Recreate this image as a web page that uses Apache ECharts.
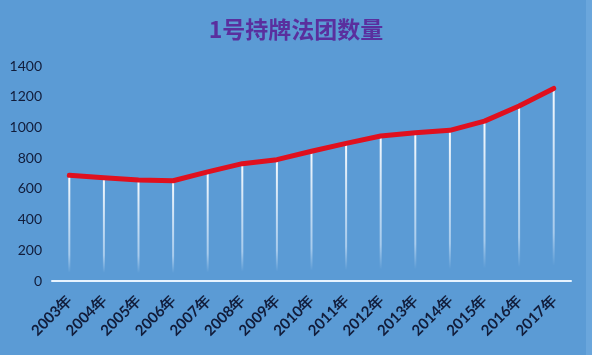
<!DOCTYPE html>
<html><head><meta charset="utf-8">
<style>html,body{margin:0;padding:0;background:#5b9bd5;}#c{width:592px;height:355px;}</style>
<script src="https://cdn.jsdelivr.net/npm/echarts@6/dist/echarts.min.js"></script>
</head><body><div id="c"></div>
<script>
const categories = ['2003年','2004年','2005年','2006年','2007年','2008年','2009年','2010年','2011年','2012年','2013年','2014年','2015年','2016年','2017年'];
const counts = [688, 672, 657, 653, 711, 764, 790, 845, 896, 944, 966, 981, 1041, 1139, 1254];
const yTicks = [0, 200, 400, 600, 800, 1000, 1200, 1400];

const chart = echarts.init(document.getElementById('c'));
chart.setOption({
  backgroundColor: '#5b9bd5',
  animation: false,
  title: {
    text: '1号持牌法团数量', left: 'center', top: 13,
    textStyle: { color: '#5a2f9e', fontSize: 23, fontWeight: 'bold', fontFamily: 'Noto Sans CJK SC' }
  },
  graphic: [{ type: 'rect', shape: { x: 586, y: 0, width: 6, height: 355 }, style: { fill: '#6aa6dc' }, silent: true }],
  grid: { left: 52, right: 21, top: 66, bottom: 74 },
  xAxis: {
    type: 'category', data: categories, boundaryGap: true,
    axisLine: { lineStyle: { color: '#e8f4ff', width: 2 } },
    axisTick: { show: false },
    axisLabel: { rotate: 45, margin: 17, color: '#111c3a', fontSize: 15, fontWeight: 'bold', fontFamily: 'Lato', interval: 0 }
  },
  yAxis: {
    type: 'value', min: yTicks[0], max: yTicks[yTicks.length - 1], interval: 200,
    axisLine: { show: false }, axisTick: { show: false },
    splitLine: { show: false },
    axisLabel: { color: '#111c3a', fontSize: 14, fontFamily: 'Lato', margin: 10, formatter: v => String(v) }
  },
  series: [
    {
      type: 'bar', data: counts, barWidth: 2, z: 1,
      itemStyle: {
        color: new echarts.graphic.LinearGradient(0, 0, 0, 1, [
          { offset: 0, color: 'rgba(255,255,255,0.95)' },
          { offset: 0.75, color: 'rgba(230,242,255,0.55)' },
          { offset: 0.92, color: 'rgba(230,242,255,0)' },
          { offset: 1, color: 'rgba(230,242,255,0)' }
        ])
      }
    },
    {
      type: 'line', data: counts, showSymbol: false, z: 3,
      lineStyle: { color: '#e0101e', width: 5, cap: 'round', join: 'round' }
    }
  ]
});
</script></body></html>
